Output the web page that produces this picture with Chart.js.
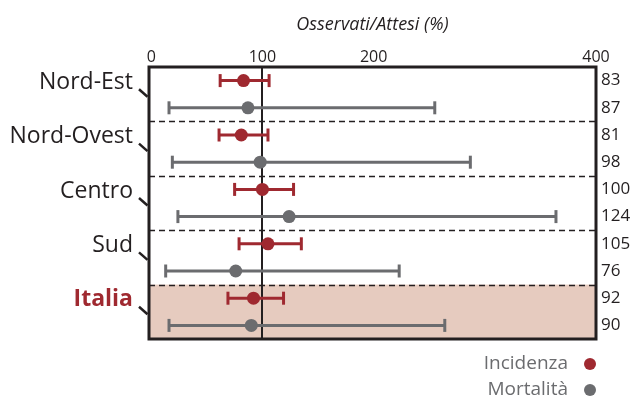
<!DOCTYPE html>
<html><head><meta charset="utf-8">
<script src="https://cdn.jsdelivr.net/npm/chart.js@4"></script>
<style>html,body{margin:0;padding:0;background:#fff;}#wrap{width:633px;height:397px;position:relative}</style>
</head><body><div id="wrap"><canvas id="c"></canvas></div>
<script>
const regions = ['Nord-Est', 'Nord-Ovest', 'Centro', 'Sud', 'Italia'];
const incidenza = [83, 81, 100, 105, 92];
const incidenzaLow = [62, 61, 75, 79, 69];
const incidenzaHigh = [106, 105, 128, 135, 119];
const mortalita = [87, 98, 124, 76, 90];
const mortalitaLow = [16, 19, 24, 13, 16];
const mortalitaHigh = [255, 287, 364, 223, 264];
const xTicks = [0, 100, 200, 400];
const seriesNames = ['Incidenza', 'Mortalità'];
const axisTitle = 'Osservati/Attesi (%)';

const RED = '#9f2930', GRAY = '#6b6c6f', DARK = '#231f20', SHADE = '#e6cbbf';
const FONT = "'Open Sans', 'Noto Sans', sans-serif";

// row positions: each region has two rows (incidence, mortality)
const rowInc = regions.map((r, i) => 2 * i + 0.5);
const rowMor = regions.map((r, i) => 2 * i + 1.5);
const rightLabels = [];
regions.forEach((r, i) => { rightLabels.push(String(incidenza[i])); rightLabels.push(String(mortalita[i])); });

const datasets = [];
datasets.push({ type: 'scatter', label: seriesNames[0], data: regions.map((r, i) => ({ x: incidenza[i], y: rowInc[i] })),
  pointRadius: 6.5, backgroundColor: RED, borderWidth: 0, pointBorderWidth: 0 });
datasets.push({ type: 'scatter', label: seriesNames[1], data: regions.map((r, i) => ({ x: mortalita[i], y: rowMor[i] })),
  pointRadius: 6.5, backgroundColor: GRAY, borderWidth: 0, pointBorderWidth: 0 });
regions.forEach((r, i) => {
  datasets.push({ type: 'line', label: 'ci-inc-' + r, data: [{ x: incidenzaLow[i], y: rowInc[i] }, { x: incidenzaHigh[i], y: rowInc[i] }],
    borderColor: RED, borderWidth: 3, pointStyle: 'line', pointRotation: 90, pointRadius: 6.5,
    pointBorderWidth: 3, pointBorderColor: RED, fill: false });
  datasets.push({ type: 'line', label: 'ci-mor-' + r, data: [{ x: mortalitaLow[i], y: rowMor[i] }, { x: mortalitaHigh[i], y: rowMor[i] }],
    borderColor: GRAY, borderWidth: 3, pointStyle: 'line', pointRotation: 90, pointRadius: 6.5,
    pointBorderWidth: 3, pointBorderColor: GRAY, fill: false });
});

const decor = {
  id: 'decor',
  beforeDraw(chart) {
    const { ctx, chartArea: a, scales } = chart;
    const y = scales.y;
    const n = regions.length;
    ctx.save();
    ctx.fillStyle = SHADE;
    const t = y.getPixelForValue(2 * (n - 1)), b = y.getPixelForValue(2 * n);
    ctx.fillRect(a.left, t, a.right - a.left, b - t);
    ctx.restore();
  },
  beforeDatasetsDraw(chart) {
    const { ctx, chartArea: a, scales } = chart;
    const y = scales.y;
    ctx.save();
    ctx.strokeStyle = DARK; ctx.lineWidth = 1.5; ctx.setLineDash([6, 4]);
    for (let i = 1; i < regions.length; i++) {
      const py = Math.round(y.getPixelForValue(2 * i)) + 0.5;
      ctx.beginPath(); ctx.moveTo(a.left, py); ctx.lineTo(a.right, py); ctx.stroke();
    }
    ctx.restore();
  },
  afterDraw(chart) {
    const { ctx, chartArea: a, scales } = chart;
    const y = scales.y;
    ctx.save();
    ctx.strokeStyle = DARK; ctx.lineWidth = 3;
    ctx.strokeRect(a.left, a.top, a.right - a.left, a.bottom - a.top);
    ctx.lineWidth = 2.5; ctx.lineCap = 'butt';
    regions.forEach((r, i) => {
      const py = y.getPixelForValue(2 * i + 1);
      ctx.beginPath(); ctx.moveTo(a.left - 10, py - 5); ctx.lineTo(a.left - 1.5, py + 2.5); ctx.stroke();
    });
    ctx.font = '19px ' + FONT; ctx.textAlign = 'right'; ctx.textBaseline = 'middle';
    const cols = [RED, GRAY];
    seriesNames.forEach((s, k) => {
      const ly = a.bottom + 25 + k * 26;
      ctx.fillStyle = GRAY; ctx.fillText(s, a.right - 28, ly);
      ctx.fillStyle = cols[k]; ctx.beginPath(); ctx.arc(a.right - 6, ly, 6, 0, Math.PI * 2); ctx.fill();
    });
    ctx.restore();
  }
};

new Chart(document.getElementById('c'), {
  data: { datasets },
  options: {
    responsive: true, maintainAspectRatio: false, animation: false, events: [],
    layout: { padding: { left: 0, right: 0, top: 0, bottom: 58 } },
    plugins: { legend: { display: false }, tooltip: { enabled: false } },
    scales: {
      x: {
        type: 'linear', position: 'top', min: -2, max: 400,
        afterBuildTicks: s => { s.ticks = xTicks.map(v => ({ value: v })); },
        afterFit: s => { s.height = 67; },
        grid: { color: c => (c.tick && c.tick.value === 100) ? DARK : 'rgba(0,0,0,0)', lineWidth: 2, drawTicks: false },
        border: { display: false },
        ticks: { font: { size: 16, family: FONT }, color: DARK, padding: 0, maxRotation: 0, autoSkip: false },
        title: { display: true, text: axisTitle, color: DARK, font: { size: 18, style: 'italic', family: FONT }, padding: { top: 14, bottom: 0 } }
      },
      y: {
        type: 'linear', position: 'left', min: 0, max: 2 * regions.length, reverse: true,
        afterBuildTicks: s => { s.ticks = regions.map((r, i) => ({ value: 2 * i + 1 })); },
        afterFit: s => { s.width = 149; },
        grid: { display: false, drawTicks: false },
        border: { display: false },
        ticks: {
          callback: (v, i) => regions[i],
          font: c => ({ size: 23, family: FONT, weight: c.index === regions.length - 1 ? 'bold' : 'normal' }),
          color: c => c.index === regions.length - 1 ? RED : DARK,
          labelOffset: -12, padding: 16, autoSkip: false
        }
      },
      y2: {
        type: 'linear', position: 'right', min: 0, max: 2 * regions.length, reverse: true,
        afterBuildTicks: s => { s.ticks = rightLabels.map((l, i) => ({ value: i + 0.5 })); },
        afterFit: s => { s.width = 37; },
        grid: { display: false, drawTicks: false },
        border: { display: false },
        ticks: { callback: (v, i) => rightLabels[i], font: { size: 17, family: FONT }, color: DARK, padding: 5, autoSkip: false }
      }
    }
  },
  plugins: [decor]
});
</script></body></html>
